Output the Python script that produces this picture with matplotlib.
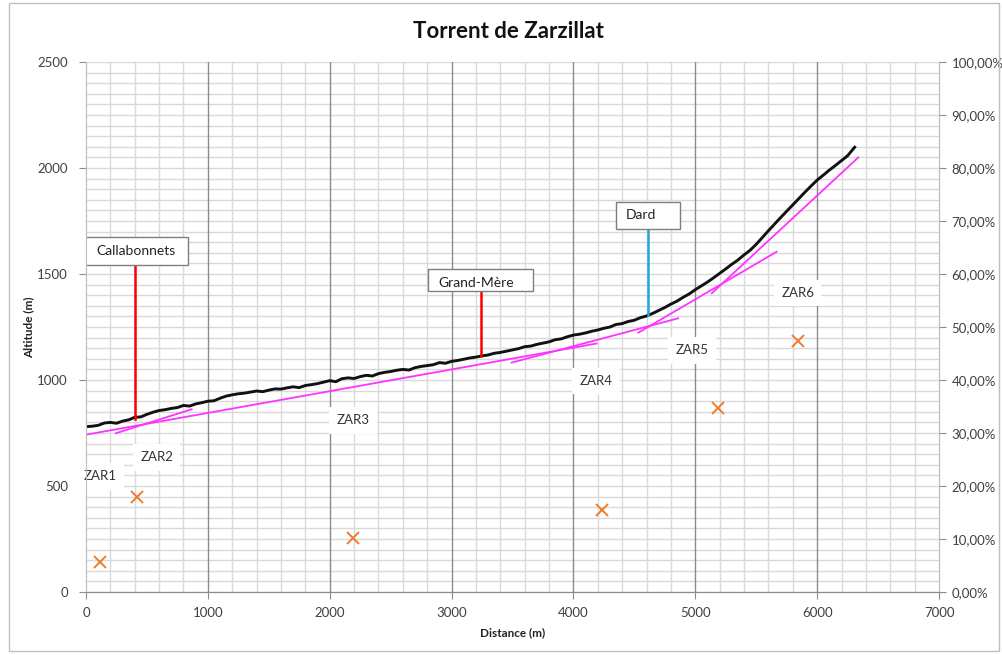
import matplotlib
matplotlib.use("Agg")
import matplotlib.pyplot as plt
import matplotlib.transforms as mtransforms
from matplotlib.ticker import MultipleLocator, FuncFormatter
from matplotlib.patches import Rectangle

plt.rcParams['font.family'] = ['Lato', 'DejaVu Sans']

# ---- data ----
distance = [0, 50, 100, 150, 200, 250, 300, 350, 400, 450, 500, 550, 600, 650, 700, 750,
            800, 850, 900, 950, 1000, 1050, 1100, 1150, 1200, 1250, 1300, 1350, 1400, 1450,
            1500, 1550, 1600, 1650, 1700, 1750, 1800, 1850, 1900, 1950, 2000, 2050, 2100,
            2150, 2200, 2250, 2300, 2350, 2400, 2450, 2500, 2550, 2600, 2650, 2700, 2750,
            2800, 2850, 2900, 2950, 3000, 3050, 3100, 3150, 3200, 3250, 3300, 3350, 3400,
            3450, 3500, 3550, 3600, 3650, 3700, 3750, 3800, 3850, 3900, 3950, 4000, 4050,
            4100, 4150, 4200, 4250, 4300, 4350, 4400, 4450, 4500, 4550, 4600, 4650, 4700,
            4750, 4800, 4850, 4900, 4950, 5000, 5050, 5100, 5150, 5200, 5250, 5300, 5350,
            5400, 5450, 5500, 5550, 5600, 5650, 5700, 5750, 5800, 5850, 5900, 5950, 6000,
            6050, 6100, 6150, 6200, 6250, 6300, 6308]
altitude = [780, 782, 786, 797, 800, 796, 806, 812, 824, 826, 838, 848, 856, 860, 866, 870,
            880, 877, 887, 893, 900, 902, 914, 924, 930, 935, 938, 943, 948, 945,
            952, 958, 957, 963, 968, 964, 974, 978, 983, 990, 997, 992, 1006,
            1010, 1007, 1016, 1022, 1019, 1030, 1036, 1040, 1046, 1050, 1047, 1058, 1064,
            1068, 1072, 1082, 1079, 1088, 1092, 1098, 1104, 1108, 1114, 1118, 1126, 1130,
            1136, 1142, 1148, 1157, 1160, 1168, 1174, 1180, 1190, 1194, 1204, 1212, 1216,
            1222, 1230, 1236, 1244, 1250, 1262, 1266, 1276, 1282, 1294, 1302, 1314, 1328,
            1342, 1358, 1372, 1390, 1406, 1426, 1444, 1462, 1482, 1503, 1524, 1546, 1566,
            1590, 1612, 1640, 1672, 1704, 1735, 1766, 1796, 1826, 1856, 1886, 1915, 1943,
            1966, 1990, 2012, 2035, 2058, 2092, 2098]

# regression lines of the segments ZAR2..ZAR6: (x0, x1) and (y0, y1)
seg_x = [(246, 867), (0, 4190), (3493, 4860), (4532, 5668), (5135, 6338)]
seg_y = [(749, 862), (742, 1172), (1082, 1291), (1223, 1605), (1409, 2050)]

# slope markers (right axis, fraction)
slope_x = [115, 418, 2191, 4234, 5186, 5843]
slope_y = [0.057, 0.179, 0.102, 0.155, 0.347, 0.474]

zar_labels = ["ZAR1", "ZAR2", "ZAR3", "ZAR4", "ZAR5", "ZAR6"]
zar_x = [115, 580, 2190, 4185, 4975, 5840]
zar_y = [545, 635, 810, 995, 1140, 1410]

places = ["Callabonnets", "Grand-Mère", "Dard"]
place_x = [402, 3241, 4612]
place_foot = [815, 1113, 1306]
place_box_y = [1609, 1474, 1778]
place_colors = ["#ff0000", "#ff0000", "#1ea7dc"]

# ---- figure ----
fig = plt.figure(figsize=(10.02, 6.55), dpi=100)
ax = fig.add_axes([86/1002, 1-592/655, (939-86)/1002, (592-62)/655])
ax2 = ax.twinx()

ax.set_xlim(0, 7000)
ax.set_ylim(0, 2500)
ax2.set_ylim(0, 1.0)

ax.xaxis.set_major_locator(MultipleLocator(1000))
ax.xaxis.set_minor_locator(MultipleLocator(200))
ax.yaxis.set_major_locator(MultipleLocator(500))
ax.yaxis.set_minor_locator(MultipleLocator(50))
ax2.yaxis.set_major_locator(MultipleLocator(0.1))
ax2.yaxis.set_major_formatter(FuncFormatter(lambda v, p: f"{v*100:.2f}%".replace('.', ',')))

ax.grid(which='minor', color='#d9d9d9', lw=1.0)
ax.grid(which='major', axis='y', color='#d9d9d9', lw=1.0)
ax.set_axisbelow(True)
for xv in ax.get_xticks():
    if 0 < xv < 7000:
        ax.axvline(xv, color='#8c8c8c', lw=1.0, zorder=1)

for a in (ax, ax2):
    a.spines['top'].set_visible(False)
    a.spines['left'].set_color('#bfbfbf')
    a.spines['right'].set_color('#bfbfbf')
    a.spines['bottom'].set_color('#8c8c8c')
    a.tick_params(which='major', length=5, color='#8c8c8c', labelsize=9.5, labelcolor='#404040')
    a.tick_params(which='minor', length=0)

ax.tick_params(axis='y', pad=8)
ax2.tick_params(axis='y', pad=4)
ax.tick_params(axis='x', pad=6)

ax.set_xlabel("Distance (m)", fontsize=8.5, fontweight='bold', color='#222222', labelpad=6)
ax.set_ylabel("Altitude (m)", fontsize=8.5, fontweight='bold', color='#222222', labelpad=2)

# profile
ax.plot(distance, altitude, color='#111111', lw=2.1, zorder=4)

# regression lines
for (x0, x1), (y0, y1) in zip(seg_x, seg_y):
    ax.plot([x0, x1], [y0, y1], color='#ff33ff', lw=1.3, zorder=5)

# slope markers
ax2.plot(slope_x, slope_y, linestyle='none', marker='x', color='#ed7d31', ms=9, mew=1.4, zorder=6)

# ZAR labels
for lab, x, y in zip(zar_labels, zar_x, zar_y):
    ax.text(x, y, lab, fontsize=9.5, color='#333333', ha='center', va='center', zorder=7,
            bbox=dict(boxstyle='square,pad=0.55', fc='white', ec='none'))

# place callouts: box sizes in pixels (w, h), text inset, text vertical offset
box_w = [106, 105, 64]
box_h = [28, 22, 27]
text_in = [14, 10, 10]
text_dy = [0, -3, 0]
for name, x, foot, by, c, w, h, ti, dy in zip(places, place_x, place_foot, place_box_y,
                                              place_colors, box_w, box_h, text_in, text_dy):
    tr = fig.dpi_scale_trans + mtransforms.ScaledTranslation(x, by, ax.transData)
    ax.plot([x, x], [foot, by], color=c, lw=1.8, zorder=6)
    rect = Rectangle((-w/2/100, -h/2/100), w/100, h/100, transform=tr,
                     fc='white', ec='#7f7f7f', lw=1.0, zorder=8)
    ax.add_patch(rect)
    ax.text((-w/2 + ti)/100, dy/100, name, transform=tr, fontsize=10, color='#222222',
            ha='left', va='center', zorder=9)

ax2.set_zorder(ax.get_zorder() + 1)
ax2.patch.set_visible(False)

fig.text(508/1002, 1-31/655, "Torrent de Zarzillat", fontsize=16, fontweight='bold',
         ha='center', va='center', color='#111111')

fig.patches.append(Rectangle((9/1002, 0.006), 990/1002, 0.99, transform=fig.transFigure,
                             fill=False, ec='#bfbfbf', lw=1.0))

fig.savefig("out.png", dpi=100)
